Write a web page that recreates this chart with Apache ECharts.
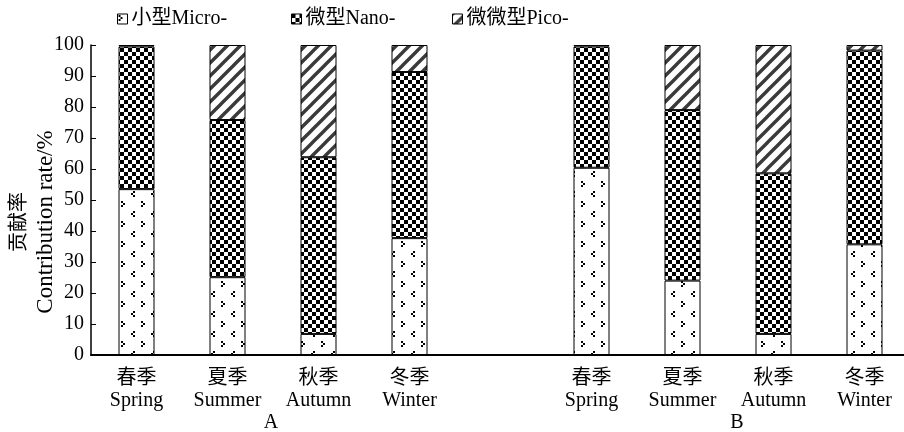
<!DOCTYPE html>
<html>
<head>
<meta charset="utf-8">
<script src="https://cdn.jsdelivr.net/npm/echarts@6/dist/echarts.min.js"></script>
<style>html,body{margin:0;padding:0;background:#fff;overflow:hidden;width:904px;height:432px}#c{width:910px;height:432px}</style>
</head>
<body>
<div id="c"></div>
<script>
var categories = ['春季\nSpring','夏季\nSummer','秋季\nAutumn','冬季\nWinter','','春季\nSpring','夏季\nSummer','秋季\nAutumn','冬季\nWinter'];
var microValues = [53.5, 25.1, 6.8, 37.7, '-', 60.4, 24.0, 6.8, 35.7];
var nanoValues  = [46.0, 50.7, 57.0, 53.6, '-', 39.1, 55.0, 51.8, 62.5];
var picoValues  = [0.5, 24.2, 36.2, 8.7, '-', 0.5, 21.0, 41.4, 1.8];
var seriesNames = ['小型Micro-','微型Nano-','微微型Pico-'];
var yTicks = [0,10,20,30,40,50,60,70,80,90,100];
var groupLabels = ['A','B'];

var FONT = '"Liberation Serif", "Noto Sans CJK SC", serif';

function makeTile(w, h, draw) {
  var c = document.createElement('canvas');
  c.width = w; c.height = h;
  var ctx = c.getContext('2d');
  ctx.fillStyle = '#fff';
  ctx.fillRect(0, 0, w, h);
  draw(ctx, w, h);
  return c;
}
var microTile = makeTile(20, 20, function (ctx) {
  ctx.fillStyle = '#000';
  ctx.fillRect(1, 1, 2, 2); ctx.fillRect(3, 3, 2, 2); ctx.fillRect(1, 5, 2, 2);
  ctx.fillRect(13, 11, 2, 2); ctx.fillRect(11, 13, 2, 2); ctx.fillRect(13, 15, 2, 2);
});
var nanoTile = makeTile(8, 8, function (ctx) {
  ctx.fillStyle = '#000';
  ctx.fillRect(0, 0, 4, 4); ctx.fillRect(4, 4, 4, 4);
});
var picoTile = makeTile(13, 13, function (ctx, w, h) {
  ctx.strokeStyle = '#3a3a3a';
  ctx.lineWidth = 3.4;
  ctx.beginPath();
  ctx.moveTo(-2, h + 2); ctx.lineTo(w + 2, -2);
  ctx.moveTo(-2, 2); ctx.lineTo(2, -2);
  ctx.moveTo(w - 2, h + 2); ctx.lineTo(w + 2, h - 2);
  ctx.stroke();
});
var patterns = [
  {image: microTile, repeat: 'repeat'},
  {image: nanoTile, repeat: 'repeat'},
  {image: picoTile, repeat: 'repeat'}
];
var valueSets = [microValues, nanoValues, picoValues];

var chart = echarts.init(document.getElementById('c'), null, {renderer: 'canvas', width: 910, height: 432});
var legendLefts = [117, 291, 452];
var option = {
  animation: false,
  backgroundColor: '#fff',
  textStyle: {fontFamily: FONT},
  grid: {left: 91, right: 0, top: 45, bottom: 77, containLabel: false},
  legend: seriesNames.map(function (n, i) {
    return {
      data: [n], left: legendLefts[i], top: 9, padding: 0, itemWidth: 10, itemHeight: 10,
      icon: 'rect',
      itemStyle: {borderColor: '#000', borderWidth: 1},
      textStyle: {fontFamily: FONT, fontSize: 20, color: '#000', padding: [0, 0, 0, -1]}
    };
  }),
  xAxis: {
    type: 'category',
    data: categories,
    boundaryGap: true,
    axisLine: {lineStyle: {color: '#000', width: 2}},
    axisTick: {inside: true, length: 4, lineStyle: {color: '#000', width: 1}, interval: 0},
    axisLabel: {interval: 0, color: '#000', fontFamily: FONT, fontSize: 20, lineHeight: 22, margin: 13}
  },
  yAxis: {
    type: 'value', min: yTicks[0], max: yTicks[yTicks.length - 1], interval: 10,
    axisLine: {show: true, lineStyle: {color: '#000', width: 1.5}},
    axisTick: {show: true, inside: true, length: 5, lineStyle: {color: '#000', width: 1}},
    splitLine: {show: false},
    axisLabel: {color: '#000', fontFamily: FONT, fontSize: 20, margin: 7}
  },
  series: seriesNames.map(function (n, i) {
    return {
      name: n, type: 'bar', stack: 'total', barWidth: 36,
      data: valueSets[i],
      itemStyle: {color: patterns[i], borderColor: '#000', borderWidth: 1},
      emphasis: {disabled: true}
    };
  }),
  graphic: [
    {
      type: 'text', x: 33, y: 222, rotation: Math.PI / 2,
      style: {text: '{cn|贡献率}\n{en|Contribution rate/%}', fontFamily: FONT, lineHeight: 26,
        fill: '#000', align: 'center', verticalAlign: 'middle',
        rich: {cn: {fontSize: 20, fontFamily: FONT, lineHeight: 26}, en: {fontSize: 23, fontFamily: FONT, lineHeight: 26}}}
    },
    {type: 'text', x: 271, y: 423, style: {text: groupLabels[0], fontFamily: FONT, fontSize: 20, fill: '#000', align: 'center', verticalAlign: 'middle'}},
    {type: 'text', x: 737, y: 423, style: {text: groupLabels[1], fontFamily: FONT, fontSize: 20, fill: '#000', align: 'center', verticalAlign: 'middle'}}
  ]
};
chart.setOption(option);
</script>
</body>
</html>
